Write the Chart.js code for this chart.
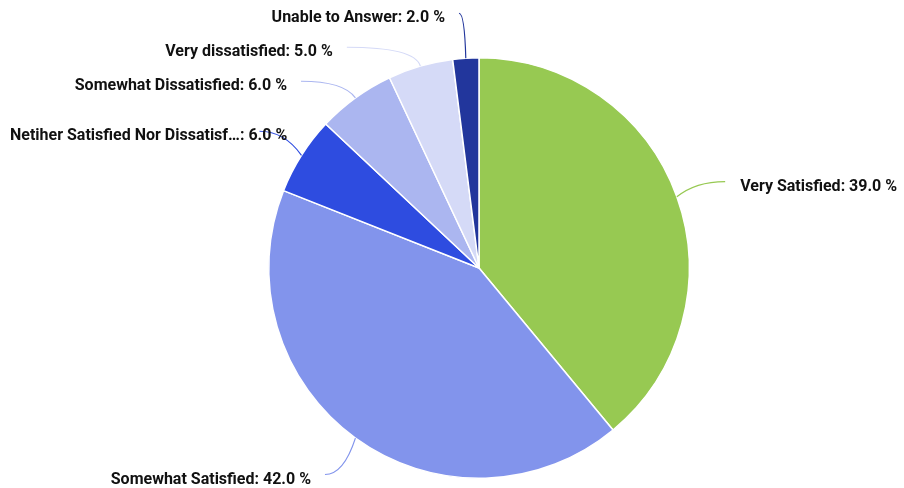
<!DOCTYPE html>
<html>
<head>
<meta charset="utf-8">
<script src="https://cdn.jsdelivr.net/npm/chart.js@4.4.0/dist/chart.umd.min.js"></script>
<style>
  html, body { margin: 0; padding: 0; background: #fff; }
  #wrap { width: 904px; height: 488px; }
</style>
</head>
<body>
<div id="wrap"><canvas id="myChart" width="904" height="488"></canvas></div>
<script>
//satisfaction survey pie
var labels = [
    "Very Satisfied",
    "Somewhat Satisfied",
    "Netiher Satisfied Nor Dissatisfied",
    "Somewhat Dissatisfied",
    "Very dissatisfied",
    "Unable to Answer"
];
var values = [39.0, 42.0, 6.0, 6.0, 5.0, 2.0];
var colors = ["#97c952", "#8294ec", "#2e4ce0", "#abb6f0", "#d5daf7", "#22369c"];

var FONT = "bold 16px Roboto";
var LABEL_MAX = 280;
var SPACING = 34;

//cut a label with an ellipsis so it fits
function fitText(c, txt, maxW) {
    if (c.measureText(txt).width <= maxW) return txt;
    var tail = txt.slice(txt.lastIndexOf(":"));
    var head = txt.slice(0, txt.lastIndexOf(":"));
    while (head.length > 0 && c.measureText(head + "\u2026" + tail).width > maxW) {
        head = head.slice(0, -1);
    }
    return head + "\u2026" + tail;
}

//leader lines and outside labels
var outLabels = {
    id: 'outLabels',
    afterDatasetsDraw: function (chart) {
        var c = chart.ctx;
        var arcs = chart.getDatasetMeta(0).data;
        var items = [];
        arcs.forEach(function (arc, i) {
            var mid = (arc.startAngle + arc.endAngle) / 2;
            var r = arc.outerRadius;
            var far = r + 45;
            items.push({
                i: i, mid: mid, cx: arc.x, cy: arc.y, r: r, far: far,
                left: Math.cos(mid) < 0,
                y: arc.y + Math.sin(mid) * far
            });
        });
        //push overlapping labels apart on each side
        [true, false].forEach(function (side) {
            var list = items.filter(function (it) { return it.left === side; })
                .sort(function (a, b) { return a.y - b.y; });
            for (var k = 1; k < list.length; k++) {
                if (list[k].y < list[k - 1].y + SPACING) list[k].y = list[k - 1].y + SPACING;
            }
        });
        c.save();
        c.font = FONT;
        items.forEach(function (it) {
            var dy = it.y - it.cy;
            var dx = Math.sqrt(Math.max(it.far * it.far - dy * dy, 0));
            var ex = it.left ? it.cx - dx - 4 : it.cx + dx + 6;
            var ey = it.y;
            var sx = it.cx + Math.cos(it.mid) * it.r;
            var sy = it.cy + Math.sin(it.mid) * it.r;
            var qx = it.cx + Math.cos(it.mid) * (it.r + 20);
            c.strokeStyle = colors[it.i];
            c.lineWidth = 1.2;
            c.beginPath();
            c.moveTo(sx, sy);
            c.quadraticCurveTo(qx, ey, ex, ey);
            c.stroke();

            var txt = fitText(c, labels[it.i] + ": " + values[it.i].toFixed(1) + " %", LABEL_MAX);
            var w = c.measureText(txt).width;
            var tx = it.left ? Math.max(10, ex - 14 - w) : ex + 15;
            c.fillStyle = "#111111";
            c.textAlign = "left";
            c.textBaseline = "middle";
            c.fillText(txt, tx, ey + 5);
        });
        c.restore();
    }
};

new Chart(document.getElementById("myChart").getContext("2d"), {
    type: 'pie',
    data: {
        labels: labels,
        datasets: [{
            data: values,
            backgroundColor: colors,
            borderColor: "#ffffff",
            borderWidth: 1.5
        }]
    },
    options: {
        responsive: false,
        animation: false,
        layout: { padding: { top: 57, bottom: 9, left: 268, right: 214 } },
        plugins: {
            legend: { display: false },
            tooltip: { enabled: false }
        }
    },
    plugins: [outLabels]
});
</script>
</body>
</html>
